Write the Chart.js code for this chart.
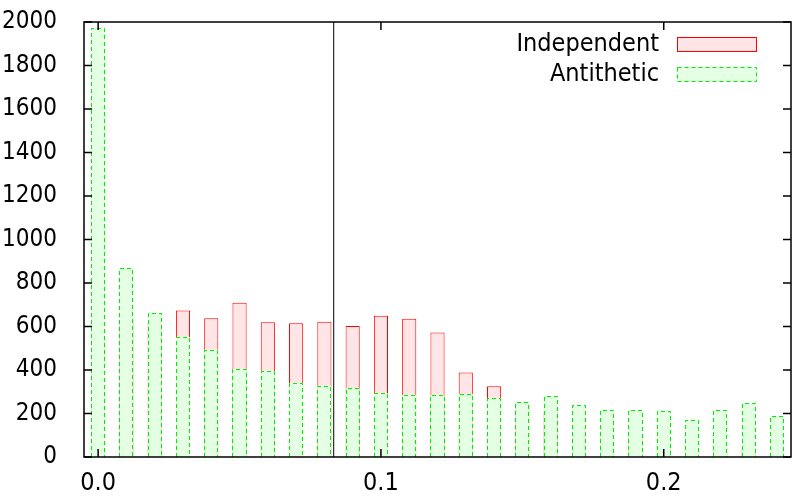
<!DOCTYPE html>
<html>
<head>
<meta charset="utf-8">
<script src="https://cdn.jsdelivr.net/npm/chart.js@4/dist/chart.umd.min.js"></script>
<style>
  html, body { margin: 0; padding: 0; background: #fff; }
  #wrap { width: 793px; height: 498px; }
</style>
</head>
<body>
<div id="wrap"><canvas id="chart-hist"></canvas></div>
<script>
// --- data ---
const binCenters = [0.00, 0.01, 0.02, 0.03, 0.04, 0.05, 0.06, 0.07, 0.08, 0.09,
                    0.10, 0.11, 0.12, 0.13, 0.14, 0.15, 0.16, 0.17, 0.18, 0.19,
                    0.20, 0.21, 0.22, 0.23, 0.24];
const independent = [640, 625, 615, 674, 638, 709, 619, 615, 622, 602,
                     650, 636, 572, 389, 325, 240, 210, 181, 124, 100,
                     87, 63, 47, 32, 20];
const antithetic = [1972, 870, 663, 552, 493, 405, 394, 339, 328, 316,
                    293, 285, 284, 290, 270, 254, 280, 238, 218, 215,
                    213, 172, 216, 247, 187];
const cutoff = 0.0833;
const xTicks = [0.0, 0.1, 0.2];
const seriesNames = ["Independent", "Antithetic"];

const FONT = "'DejaVu Sans Condensed', 'Liberation Sans', sans-serif";
const RED = "#ff0000", RED_FILL = "#ffe5e5";
const GREEN = "#00ee00", GREEN_FILL = "#e5ffe5";

// gnuplot-ish frame with inward ticks on all four sides
const framePlugin = {
  id: "frame",
  afterDatasetsDraw(chart) {
    const ctx = chart.ctx;
    // dashed outline for antithetic bars
    const meta = chart.getDatasetMeta(1);
    ctx.save();
    ctx.strokeStyle = GREEN;
    ctx.lineWidth = 1;
    ctx.setLineDash([4, 3]);
    meta.data.forEach(bar => {
      const p = bar.getProps(["x", "y", "base", "width"], true);
      const l = Math.round(p.x - p.width / 2) + 0.5, r = Math.round(p.x + p.width / 2) - 0.5;
      ctx.beginPath();
      ctx.moveTo(l, p.base);
      ctx.lineTo(l, Math.round(p.y) + 0.5);
      ctx.lineTo(r, Math.round(p.y) + 0.5);
      ctx.lineTo(r, p.base);
      ctx.stroke();
    });
    ctx.restore();
  },
  afterDraw(chart) {
    const ctx = chart.ctx;
    const a = chart.chartArea;
    const xs = chart.scales.x, ys = chart.scales.y;
    const len = 8;
    ctx.save();
    ctx.strokeStyle = "#000";
    ctx.lineWidth = 1.5;
    ctx.beginPath();
    ys.ticks.forEach(t => {
      const y = ys.getPixelForValue(t.value);
      ctx.moveTo(a.left, y); ctx.lineTo(a.left + len, y);
      ctx.moveTo(a.right, y); ctx.lineTo(a.right - len, y);
    });
    xs.ticks.forEach(t => {
      const x = xs.getPixelForValue(t.value);
      ctx.moveTo(x, a.bottom); ctx.lineTo(x, a.bottom - len);
      ctx.moveTo(x, a.top); ctx.lineTo(x, a.top + len);
    });
    ctx.stroke();
    ctx.strokeRect(a.left, a.top, a.right - a.left, a.bottom - a.top);

    // key, top right inside the frame
    const rows = [
      { name: seriesNames[0], fill: RED_FILL, stroke: RED, dash: [] },
      { name: seriesNames[1], fill: GREEN_FILL, stroke: GREEN, dash: [4, 3] }
    ];
    ctx.font = "25px " + FONT;
    ctx.textAlign = "right";
    ctx.textBaseline = "middle";
    rows.forEach((r, i) => {
      const cy = a.top + 22 + i * 30;
      ctx.fillStyle = "#000";
      ctx.fillText(r.name, a.right - 132, cy);
      ctx.fillStyle = r.fill;
      ctx.fillRect(a.right - 114, cy - 7, 80, 15);
      ctx.setLineDash(r.dash);
      ctx.strokeStyle = r.stroke;
      ctx.lineWidth = 1;
      ctx.strokeRect(a.right - 114 + 0.5, cy - 7 + 0.5, 79, 14);
    });
    ctx.restore();
  }
};

const ctxHist = document.getElementById("chart-hist").getContext("2d");
new Chart(ctxHist, {
  type: "bar",
  data: {
    datasets: [
      {
        label: seriesNames[0],
        data: binCenters.map((x, i) => ({ x, y: independent[i] })),
        backgroundColor: RED_FILL,
        borderColor: RED,
        borderWidth: 1,
        order: 2
      },
      {
        label: seriesNames[1],
        data: binCenters.map((x, i) => ({ x, y: antithetic[i] })),
        backgroundColor: GREEN_FILL,
        borderWidth: 0,
        order: 1
      },
      {
        type: "line",
        label: "cutoff",
        data: [{ x: cutoff, y: 0 }, { x: cutoff, y: 2000 }],
        borderColor: "#000",
        borderWidth: 1,
        pointRadius: 0,
        order: 0
      }
    ]
  },
  options: {
    responsive: true,
    maintainAspectRatio: false,
    animation: false,
    grouped: false,
    barPercentage: 0.5,
    categoryPercentage: 1,
    layout: { padding: { top: 22, right: 2, left: 0, bottom: 0 } },
    plugins: {
      legend: { display: false },
      tooltip: { enabled: false }
    },
    scales: {
      x: {
        type: "linear",
        min: -0.005,
        max: 0.245,
        offset: false,
        grid: { display: false },
        border: { display: false },
        afterBuildTicks: s => { s.ticks = xTicks.map(v => ({ value: v })); },
        afterFit: s => { s.height = 41; s.paddingLeft = 0; s.paddingRight = 0; },
        ticks: {
          color: "#000",
          padding: 3,
          maxRotation: 0,
          font: { family: FONT, size: 25 },
          callback: v => v.toFixed(1)
        }
      },
      y: {
        min: 0,
        max: 2000,
        grid: { display: false },
        border: { display: false },
        afterFit: s => { s.width = 84; s.paddingTop = 0; s.paddingBottom = 0; },
        ticks: {
          stepSize: 200,
          color: "#000",
          padding: 19,
          font: { family: FONT, size: 24 },
          callback: v => String(v)
        }
      }
    }
  },
  plugins: [framePlugin]
});
</script>
</body>
</html>
